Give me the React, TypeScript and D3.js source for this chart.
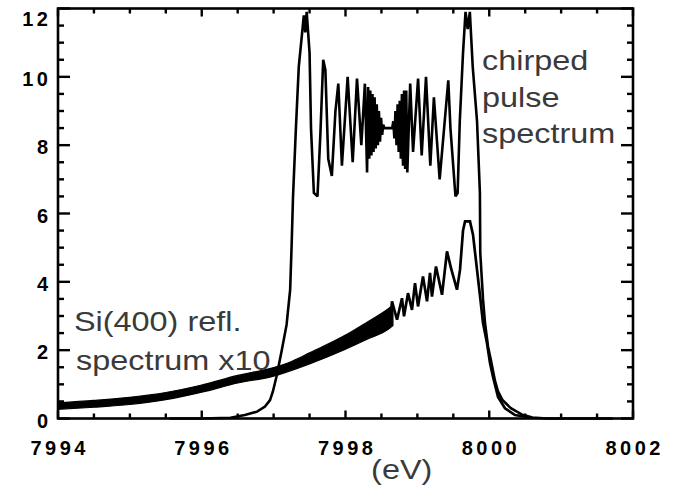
import React from "react";
import * as d3 from "d3";

// ---- data ----
const xTickValues = [7994, 7996, 7998, 8000, 8002];
const yTickValues = [0, 2, 4, 6, 8, 10, 12];

// chirped pulse spectrum: [eV, intensity]
const pulseEV = [
  7995.55, 7996.0, 7996.4, 7996.6, 7996.77, 7996.88, 7996.95, 7996.99, 7997.04, 7997.11,
  7997.18, 7997.23, 7997.25, 7997.27, 7997.31, 7997.35, 7997.39, 7997.42, 7997.44, 7997.46,
  7997.5, 7997.52, 7997.56, 7997.61, 7997.65, 7997.69, 7997.72, 7997.76, 7997.81, 7997.86,
  7997.9, 7997.95, 7998.03, 7998.1, 7998.16, 7998.22, 7998.27, 7998.3, 7998.315, 7998.33,
  7998.345, 7998.36, 7998.375, 7998.39, 7998.405, 7998.42, 7998.435, 7998.45, 7998.465, 7998.48,
  7998.495, 7998.51, 7998.525, 7998.54, 7998.65, 7998.665, 7998.68, 7998.695, 7998.71, 7998.725,
  7998.74, 7998.755, 7998.77, 7998.785, 7998.8, 7998.815, 7998.83, 7998.845, 7998.86, 7998.9,
  7998.94, 7999.01, 7999.06, 7999.12, 7999.18, 7999.23, 7999.31, 7999.43, 7999.46, 7999.53,
  7999.56, 7999.59, 7999.635, 7999.67, 7999.7, 7999.73, 7999.77, 7999.83, 7999.87, 7999.875,
  7999.913, 7999.941, 7999.983, 8000.024, 8000.08, 8000.12, 8000.18, 8000.3, 8000.45, 8000.6,
  8000.8, 8001.72,
];
const pulseVal = [
  0, 0, 0.02, 0.1, 0.2, 0.35, 0.54, 0.79, 1.23, 1.96,
  2.74, 3.77, 5.04, 6.5, 8.5, 10.3, 11.15, 11.8, 11.3, 11.9,
  10.7, 8.5, 6.6, 6.5, 8.3, 10.5, 10.2, 7.6, 7.1, 9.0,
  9.8, 7.4, 10.0, 7.5, 9.95, 8.0, 9.8, 7.2, 9.7, 7.6,
  9.6, 7.7, 9.5, 7.8, 9.4, 7.9, 9.2, 8.0, 9.0, 8.1,
  8.8, 8.3, 8.6, 8.5, 8.5, 8.7, 8.2, 9.0, 8.0, 9.2,
  7.8, 9.3, 7.6, 9.5, 7.4, 9.6, 7.3, 9.6, 7.2, 9.8,
  7.8, 9.95, 7.7, 10.0, 7.4, 9.4, 7.0, 9.9, 8.5, 6.5,
  6.6, 8.7, 10.7, 11.9, 11.4, 11.9, 10.3, 8.7, 6.6, 4.85,
  3.5, 2.8, 2.1, 1.7, 1.1, 0.8, 0.55, 0.3, 0.12, 0.03,
  0, 0,
];

// Si(400) reflectivity x10: dense band (lower / upper envelope)
const siBandEV = [7994.0, 7994.5, 7995.0, 7995.5, 7996.0, 7996.5, 7997.0, 7997.25, 7997.5, 7998.0, 7998.3, 7998.6, 7998.66];
const siBandLow = [0.27, 0.33, 0.41, 0.55, 0.77, 1.04, 1.24, 1.41, 1.6, 2.03, 2.32, 2.62, 2.72];
const siBandHigh = [0.46, 0.53, 0.62, 0.76, 0.98, 1.26, 1.49, 1.67, 1.92, 2.44, 2.82, 3.22, 3.32];

// Si(400) reflectivity x10: resolved oscillations near the edge
const siOscEV = [
  7998.619, 7998.647, 7998.717, 7998.786, 7998.814, 7998.87, 7998.925, 7998.967, 7999.009, 7999.078,
  7999.134, 7999.176, 7999.203, 7999.259, 7999.343, 7999.412, 7999.468, 7999.551, 7999.593, 7999.635,
  7999.663, 7999.732, 7999.774, 7999.83, 7999.871, 7999.913, 7999.969, 8000.01, 8000.052, 8000.122,
  8000.219, 8000.358, 8000.567,
];
const siOscVal = [
  2.8, 3.43, 2.89, 3.52, 2.99, 3.67, 3.18, 3.96, 3.28, 4.16,
  3.43, 4.26, 3.57, 4.45, 3.62, 4.89, 4.4, 3.77, 4.35, 5.5,
  5.77, 5.77, 5.38, 4.35, 3.6, 2.8, 2.2, 1.63, 1.22, 0.63,
  0.3, 0.1, 0.03,
];

const pulseLabel = ["chirped", "pulse", "spectrum"];
const siLabel = ["Si(400) refl.", "spectrum x10"];
const xAxisLabel = "(eV)";

// ---- layout ----
const W = 681;
const H = 493;
const L = 58;
const R = 633;
const T = 8.5;
const B = 418.5;

export default function App() {
  const x = d3.scaleLinear().domain([7994, 8002]).range([L, R]);
  const y = d3.scaleLinear().domain([0, 12]).range([B, T]);

  const pulse = pulseEV.map((e, i) => [e, pulseVal[i]] as [number, number]);
  const siOsc = siOscEV.map((e, i) => [e, siOscVal[i]] as [number, number]);
  const band = siBandEV.map((e, i) => ({ e, lo: siBandLow[i], hi: siBandHigh[i] }));

  const line = d3
    .line<[number, number]>()
    .x((d) => x(d[0]))
    .y((d) => y(d[1]));
  const area = d3
    .area<{ e: number; lo: number; hi: number }>()
    .x((d) => x(d.e))
    .y0((d) => y(d.lo))
    .y1((d) => y(d.hi))
    .curve(d3.curveMonotoneX);

  const xMinor = d3.range(7994, 8002.001, 0.5);
  const yMinor = d3.range(0, 12.001, 0.5);
  const isMajor = (v: number) => Math.abs(v / 2 - Math.round(v / 2)) < 1e-6;

  const tickFont = {
    fontFamily: "'Liberation Sans', Arial, sans-serif",
    fontWeight: 700,
    fontSize: 20,
    letterSpacing: 3.5,
  } as const;
  const textFont = {
    fontFamily: "'Liberation Sans', Arial, sans-serif",
    fontSize: 27,
    fill: "#3a3a3a",
  } as const;

  return (
    <svg
      width={W}
      height={H}
      style={{ position: "absolute", left: 0, top: 0, background: "#fff" }}
    >
      <rect x={0} y={0} width={W} height={H} fill="#fff" />

      {/* Si band */}
      <path d={area(band) || ""} fill="#000" stroke="#000" strokeWidth={1.2} />
      <path d={line(siOsc) || ""} fill="none" stroke="#000" strokeWidth={2.7} strokeLinejoin="miter" />

      {/* pulse */}
      <path d={line(pulse) || ""} fill="none" stroke="#000" strokeWidth={2.6} strokeLinejoin="miter" strokeMiterlimit={2} />

      {/* frame */}
      <rect x={L} y={T} width={R - L} height={B - T} fill="none" stroke="#000" strokeWidth={2.6} />

      {/* x ticks */}
      {xMinor.map((v) => {
        const len = isMajor(v) ? 8 : 5;
        const px = x(v);
        return (
          <g key={"xt" + v}>
            <line x1={px} x2={px} y1={B} y2={B - len} stroke="#000" strokeWidth={2.4} />
            <line x1={px} x2={px} y1={T} y2={T + len} stroke="#000" strokeWidth={2.4} />
          </g>
        );
      })}
      {/* y ticks */}
      {yMinor.map((v) => {
        const len = isMajor(v) ? 12 : 6;
        const py = y(v);
        return (
          <g key={"yt" + v}>
            <line x1={L} x2={L + len} y1={py} y2={py} stroke="#000" strokeWidth={2.4} />
            <line x1={R} x2={R - len} y1={py} y2={py} stroke="#000" strokeWidth={2.4} />
          </g>
        );
      })}

      {/* x tick labels */}
      {xTickValues.map((v) => (
        <text
          key={"xl" + v}
          x={x(v) + 1.75}
          y={455}
          textAnchor="middle"
          style={tickFont}
        >
          {v}
        </text>
      ))}
      {/* y tick labels */}
      {yTickValues.map((v) => (
        <text
          key={"yl" + v}
          x={48 + 3.5}
          y={Math.max(y(v) + 9, 26)}
          textAnchor="end"
          style={tickFont}
        >
          {v}
        </text>
      ))}

      {/* annotations */}
      {pulseLabel.map((s, i) => (
        <text
          key={"pl" + i}
          transform={`translate(482, ${70 + i * 36.5}) scale(1.2, 1)`}
          style={textFont}
        >
          {s}
        </text>
      ))}
      {siLabel.map((s, i) => (
        <text
          key={"sl" + i}
          transform={`translate(${74 + i * 2}, ${331 + i * 39}) scale(1.2, 1)`}
          style={textFont}
        >
          {s}
        </text>
      ))}
      <text
        transform={`translate(401.7, 479) scale(1.2, 1)`}
        textAnchor="middle"
        style={textFont}
      >
        {xAxisLabel}
      </text>
    </svg>
  );
}
